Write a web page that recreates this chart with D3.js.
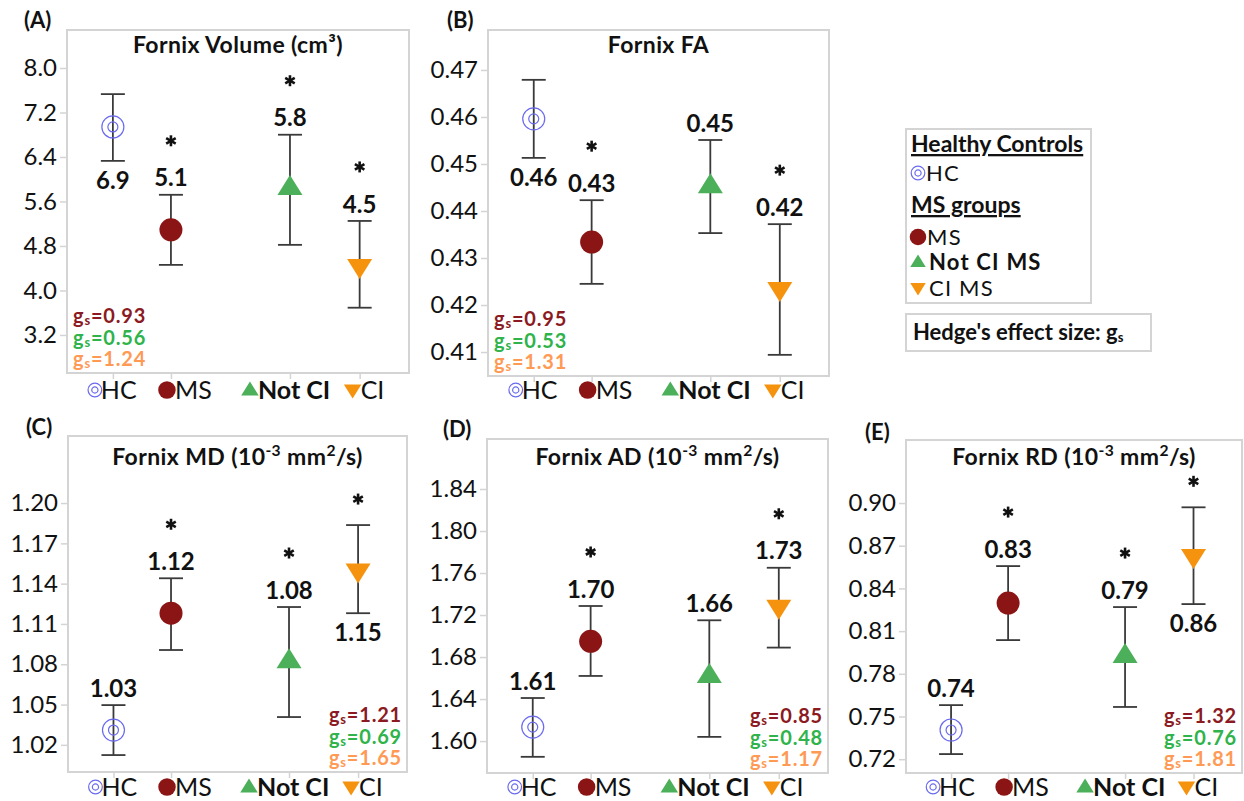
<!DOCTYPE html>
<html><head><meta charset="utf-8">
<script src="https://cdn.jsdelivr.net/npm/d3@7"></script>
<style>
body{margin:0;background:#fff}
svg{display:block;font-family:Lato,'Open Sans',sans-serif}
</style>
</head><body>
<svg id="chart" width="1244" height="801"></svg>
<script>
// ---------------- DATA ----------------
const groups = ["HC", "MS", "Not CI", "CI"];
const groupX = [0, 1, 3.05, 4.25];

const volumeMean   = [6.94, 5.09, 5.86, 4.42];
const volumeLow    = [6.33, 4.46, 4.82, 3.69];
const volumeHigh   = [7.53, 5.72, 6.80, 5.25];
const volumeLabels = ["6.9", "5.1", "5.8", "4.5"];
const volumeStars  = [false, true, true, true];
const volumeTicks  = [3.2, 4.0, 4.8, 5.6, 6.4, 7.2, 8.0];
const volumeG      = ["0.93", "0.56", "1.24"];

const faMean   = [0.4596, 0.4334, 0.4455, 0.4232];
const faLow    = [0.4513, 0.4245, 0.4353, 0.4094];
const faHigh   = [0.4679, 0.4423, 0.4551, 0.4372];
const faLabels = ["0.46", "0.43", "0.45", "0.42"];
const faStars  = [false, true, false, true];
const faTicks  = [0.41, 0.42, 0.43, 0.44, 0.45, 0.46, 0.47];
const faG      = ["0.95", "0.53", "1.31"];

const mdMean   = [1.031, 1.118, 1.083, 1.149];
const mdLow    = [1.0124, 1.0906, 1.0407, 1.118];
const mdHigh   = [1.0496, 1.144, 1.1226, 1.1836];
const mdLabels = ["1.03", "1.12", "1.08", "1.15"];
const mdStars  = [false, true, true, true];
const mdTicks  = [1.02, 1.05, 1.08, 1.11, 1.14, 1.17, 1.20];
const mdG      = ["1.21", "0.69", "1.65"];

const adMean   = [1.6133, 1.695, 1.663, 1.727];
const adLow    = [1.585, 1.662, 1.604, 1.689];
const adHigh   = [1.641, 1.7286, 1.715, 1.765];
const adLabels = ["1.61", "1.70", "1.66", "1.73"];
const adStars  = [false, true, false, true];
const adTicks  = [1.60, 1.64, 1.68, 1.72, 1.76, 1.80, 1.84];
const adG      = ["0.85", "0.48", "1.17"];

const rdMean   = [0.7405, 0.8297, 0.7932, 0.862];
const rdLow    = [0.7236, 0.8037, 0.7567, 0.829];
const rdHigh   = [0.758, 0.8557, 0.8269, 0.897];
const rdLabels = ["0.74", "0.83", "0.79", "0.86"];
const rdStars  = [false, true, true, true];
const rdTicks  = [0.72, 0.75, 0.78, 0.81, 0.84, 0.87, 0.90];
const rdG      = ["1.32", "0.76", "1.81"];

// ---------------- STYLE ----------------
const C = {
  hc: "#6a6af0", ms: "#8b1414", notci: "#4caf5a", ci: "#f5930f",
  g1: "#8b1a22", g2: "#2fb34a", g3: "#ff9a55",
  frame: "#d4d4d4", bar: "#3a3a3a", text: "#111"
};
const gColors = [C.g1, C.g2, C.g3];
const xLabelShift = [-18, -4, -40, -7];

const svg = d3.select("#chart");
svg.append("rect").attr("width", 1244).attr("height", 801).attr("fill", "#fff");

function drawSymbol(g, type, size) {
  if (type === 0) {
    g.append("circle").attr("r", 11 * size).attr("fill", "none").attr("stroke", C.hc).attr("stroke-width", 1.2);
    g.append("circle").attr("r", 5 * size).attr("fill", "none").attr("stroke", C.hc).attr("stroke-width", 1.2);
  } else if (type === 1) {
    g.append("circle").attr("r", 11.5 * size).attr("fill", C.ms);
  } else if (type === 2) {
    const w = 12.5 * size, h1 = 12 * size, h2 = 8 * size;
    g.append("path").attr("d", `M0,${-h1}L${w},${h2}L${-w},${h2}Z`).attr("fill", C.notci);
  } else {
    const w = 12.5 * size, h1 = 12 * size, h2 = 8 * size;
    g.append("path").attr("d", `M0,${h1}L${w},${-h2}L${-w},${-h2}Z`).attr("fill", C.ci);
  }
}

function drawStar(g, cx, cy) {
  const r = 5.5;
  const s = g.append("g").attr("transform", `translate(${cx},${cy})`)
    .attr("stroke", C.text).attr("stroke-width", 2.6).attr("stroke-linecap", "butt");
  [90, 30, 150].forEach(a => {
    const rad = a * Math.PI / 180;
    s.append("line").attr("x1", -r * Math.cos(rad)).attr("y1", -r * Math.sin(rad))
      .attr("x2", r * Math.cos(rad)).attr("y2", r * Math.sin(rad));
  });
}

function addTitle(sel, parts) {
  parts.forEach(p => {
    const t = sel.append("tspan").text(p[0]);
    if (p[1]) t.attr("baseline-shift", "super").attr("font-size", "0.68em");
  });
}

const panels = [
  { letter: "(A)", lx: 24, ly: 28, title: [["Fornix Volume (cm³)"]],
    frame: [67, 30, 409, 373], domain: [2.516, 8.683], ticks: volumeTicks, fmt: ".1f",
    mean: volumeMean, low: volumeLow, high: volumeHigh, labels: volumeLabels, stars: volumeStars,
    labelPos: ["below", "above", "above", "above"], g: volumeG, gCorner: "left", titleY: 53, rowY: 390 },
  { letter: "(B)", lx: 447, ly: 28, title: [["Fornix FA"]],
    frame: [488, 30, 829, 376], domain: [0.4049, 0.4785], ticks: faTicks, fmt: ".2f",
    mean: faMean, low: faLow, high: faHigh, labels: faLabels, stars: faStars,
    labelPos: ["below", "above", "above", "above"], g: faG, gCorner: "left", titleY: 53, rowY: 390 },
  { letter: "(C)", lx: 26, ly: 435, title: [["Fornix MD (10"], ["-3", 1], [" mm"], ["2", 1], ["/s)"]],
    frame: [68, 436, 407, 772], domain: [0.9998, 1.2499], ticks: mdTicks, fmt: ".2f",
    mean: mdMean, low: mdLow, high: mdHigh, labels: mdLabels, stars: mdStars,
    labelPos: ["above", "above", "above", "below"], g: mdG, gCorner: "right", titleY: 465, rowY: 787 },
  { letter: "(D)", lx: 443, ly: 437, title: [["Fornix AD (10"], ["-3", 1], [" mm"], ["2", 1], ["/s)"]],
    frame: [487, 439, 828, 773], domain: [1.5696, 1.8876], ticks: adTicks, fmt: ".2f",
    mean: adMean, low: adLow, high: adHigh, labels: adLabels, stars: adStars,
    labelPos: ["above", "above", "above", "above"], g: adG, gCorner: "right", titleY: 465, rowY: 787 },
  { letter: "(E)", lx: 865, ly: 440, title: [["Fornix RD (10"], ["-3", 1], [" mm"], ["2", 1], ["/s)"]],
    frame: [906, 440, 1242, 773], domain: [0.7103, 0.9443], ticks: rdTicks, fmt: ".2f",
    mean: rdMean, low: rdLow, high: rdHigh, labels: rdLabels, stars: rdStars,
    labelPos: ["above", "above", "above", "below"], g: rdG, gCorner: "right", titleY: 465, rowY: 787 }
];

panels.forEach(p => {
  const [x0, y0, x1, y1] = p.frame;
  const x = d3.scaleLinear().domain([-0.79, 5.1]).range([x0, x1]);
  const y = d3.scaleLinear().domain(p.domain).range([y1, y0]);
  const g = svg.append("g");

  g.append("text").attr("x", p.lx).attr("y", p.ly).attr("font-size", 22).attr("font-weight", 700)
    .attr("fill", C.text).text(p.letter);

  const yAxis = d3.axisLeft(y).tickValues(p.ticks).tickFormat(d3.format(p.fmt)).tickSize(7).tickPadding(3);
  const ya = g.append("g").attr("transform", `translate(${x0},0)`).call(yAxis);
  ya.select(".domain").remove();
  ya.selectAll("line").attr("stroke", C.frame).attr("stroke-width", 1.5);
  ya.selectAll("text").attr("font-size", 24).attr("font-family", "Lato").attr("fill", C.text);

  const xa = g.append("g").attr("transform", `translate(0,${y1})`)
    .call(d3.axisBottom(x).tickValues(groupX).tickSize(6).tickFormat(""));
  xa.select(".domain").remove();
  xa.selectAll("line").attr("stroke", C.frame).attr("stroke-width", 1.5);

  g.append("rect").attr("x", x0).attr("y", y0).attr("width", x1 - x0).attr("height", y1 - y0)
    .attr("fill", "none").attr("stroke", C.frame).attr("stroke-width", 2);

  const t = g.append("text").attr("x", (x0 + x1) / 2).attr("y", p.titleY).attr("text-anchor", "middle")
    .attr("font-size", 23).attr("font-weight", 700).attr("letter-spacing", 0.4).attr("fill", C.text);
  addTitle(t, p.title);

  groups.forEach((name, i) => {
    const cx = x(groupX[i]);
    const yl = y(p.low[i]), yh = y(p.high[i]), ym = y(p.mean[i]);
    g.append("line").attr("x1", cx).attr("x2", cx).attr("y1", yl).attr("y2", yh)
      .attr("stroke", C.bar).attr("stroke-width", 1.8);
    [yl, yh].forEach(yy => g.append("line").attr("x1", cx - 12).attr("x2", cx + 12).attr("y1", yy).attr("y2", yy)
      .attr("stroke", C.bar).attr("stroke-width", 1.8));
    const m = g.append("g").attr("transform", `translate(${cx},${ym})`);
    drawSymbol(m, i, 1);

    let labelY, starY;
    if (p.labelPos[i] === "above") { labelY = yh - 17; starY = labelY - 37; }
    else { labelY = yl + 19; starY = yh - 26; }
    g.append("text").attr("x", cx).attr("y", labelY).attr("dy", "0.36em").attr("text-anchor", "middle")
      .attr("font-size", 24).attr("font-weight", 700).attr("fill", C.text).text(p.labels[i]);
    if (p.stars[i]) drawStar(g, cx, starY);

    const lg = g.append("g").attr("transform", `translate(${cx + xLabelShift[i]},${p.rowY})`);
    const sz = i === 0 ? 0.62 : (i === 1 ? 0.76 : 0.7);
    drawSymbol(lg.append("g"), i, sz);
    lg.append("text").attr("x", i === 0 ? 6 : 8).attr("y", 0).attr("dy", "0.36em")
      .attr("font-size", 25).attr("font-weight", i === 2 ? 700 : 400).attr("fill", C.text).text(name);
  });

  p.g.forEach((v, k) => {
    const left = p.gCorner === "left";
    const tx = g.append("text").attr("x", left ? x0 + 6 : x1 - 5).attr("y", y1 - 50 + k * 21.5)
      .attr("text-anchor", left ? "start" : "end")
      .attr("font-size", 20).attr("letter-spacing", 0.8).attr("font-weight", 700).attr("fill", gColors[k]);
    tx.append("tspan").text("g");
    tx.append("tspan").attr("font-size", 13).attr("dy", 2).text("s");
    tx.append("tspan").attr("dy", -2).text("=" + v);
  });
});

// ---------------- LEGEND ----------------
const lg = svg.append("g");
lg.append("rect").attr("x", 906).attr("y", 129).attr("width", 185).attr("height", 174)
  .attr("fill", "#fff").attr("stroke", C.frame).attr("stroke-width", 2);
lg.append("rect").attr("x", 906).attr("y", 314).attr("width", 245).attr("height", 37)
  .attr("fill", "#fff").attr("stroke", C.frame).attr("stroke-width", 2);

lg.append("text").attr("x", 911).attr("y", 152).attr("font-size", 23).attr("font-weight", 700)
  .attr("text-decoration", "underline").attr("fill", C.text).text("Healthy Controls");
lg.append("text").attr("x", 911).attr("y", 213).attr("font-size", 23).attr("font-weight", 700)
  .attr("text-decoration", "underline").attr("fill", C.text).text("MS groups");

const legendItems = [
  { i: 0, label: "HC", y: 173, bold: false },
  { i: 1, label: "MS", y: 237, bold: false },
  { i: 2, label: "Not CI MS", y: 262, bold: true },
  { i: 3, label: "CI MS", y: 288, bold: false }
];
legendItems.forEach(d => {
  const s = lg.append("g").attr("transform", `translate(918,${d.y})`);
  drawSymbol(s, d.i, d.i === 0 ? 0.62 : (d.i === 1 ? 0.72 : 0.62));
  lg.append("text").attr("x", d.i === 0 ? 926 : (d.i === 1 ? 927 : 929)).attr("y", d.y).attr("dy", "0.36em")
    .attr("font-size", 22).attr("letter-spacing", 1.2).attr("font-weight", d.bold ? 700 : 400)
    .attr("fill", C.text).text(d.label);
});

const ht = lg.append("text").attr("x", 913).attr("y", 340).attr("font-size", 22).attr("font-weight", 700).attr("fill", C.text);
ht.append("tspan").text("Hedge's effect size: g");
ht.append("tspan").attr("font-size", 13).attr("dy", 2).text("s");
</script>
</body></html>
